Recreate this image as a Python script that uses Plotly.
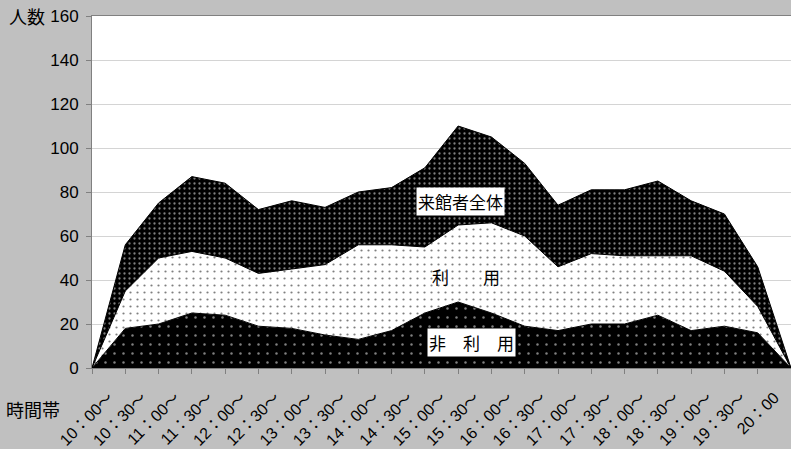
import plotly.graph_objects as go

# Category labels (time bands)
time_labels = ["10：00～", "10：30～", "11：00～", "11：30～", "12：00～", "12：30～",
               "13：00～", "13：30～", "14：00～", "14：30～", "15：00～", "15：30～",
               "16：00～", "16：30～", "17：00～", "17：30～", "18：00～", "18：30～",
               "19：00～", "19：30～", "20：00"]

# Series values at each boundary point (22 points)
non_use = [0, 18, 20, 25, 24, 19, 18, 15, 13, 17, 25, 30, 25, 19, 17, 20, 20, 24, 17, 19, 16, 0]
use = [0, 17, 30, 28, 26, 24, 27, 32, 43, 39, 30, 35, 41, 41, 29, 32, 31, 27, 34, 25, 12, 0]
total = [0, 56, 75, 87, 84, 72, 76, 73, 80, 82, 91, 110, 105, 93, 74, 81, 81, 85, 76, 70, 46, 0]

xs = list(range(len(total)))
use_top = [a + b for a, b in zip(non_use, use)]

fig = go.Figure()
fig.add_trace(go.Scatter(
    x=xs, y=non_use, mode="lines", fill="tozeroy", name="非利用",
    line=dict(color="black", width=1),
    fillcolor="black",
    fillpattern=dict(shape=".", bgcolor="black", fgcolor="white", size=9, solidity=0.06),
))
fig.add_trace(go.Scatter(
    x=xs, y=use_top, mode="lines", fill="tonexty", name="利用",
    line=dict(color="black", width=1),
    fillcolor="white",
    fillpattern=dict(shape=".", bgcolor="white", fgcolor="black", size=7, solidity=0.08),
))
fig.add_trace(go.Scatter(
    x=xs, y=total, mode="lines", fill="tonexty", name="来館者全体",
    line=dict(color="black", width=1),
    fillcolor="black",
    fillpattern=dict(shape=".", bgcolor="black", fgcolor="white", size=5, solidity=0.17),
))

label_font = dict(family="Noto Sans CJK JP", size=17, color="black")
fig.add_annotation(x=11.07, y=75.5, text="来館者全体", showarrow=False,
                   bgcolor="white", borderpad=1, font=label_font)
fig.add_annotation(x=11.25, y=41.4, text="利　　用", showarrow=False, font=label_font)
fig.add_annotation(x=11.4, y=11.8, text="非　利　用", showarrow=False,
                   bgcolor="white", borderpad=1, font=label_font)

fig.add_annotation(xref="paper", yref="paper", x=-0.122, y=1.0, xanchor="left", yanchor="middle",
                   text="人数", showarrow=False,
                   font=dict(family="Noto Sans CJK JP", size=18, color="black"))
fig.add_annotation(xref="paper", yref="paper", x=-0.126, y=-0.117, xanchor="left", yanchor="middle",
                   text="時間帯", showarrow=False,
                   font=dict(family="Noto Sans CJK JP", size=18, color="black"))

fig.update_layout(
    width=791, height=449,
    margin=dict(l=92, r=0, t=16, b=81),
    paper_bgcolor="#c0c0c0",
    plot_bgcolor="white",
    showlegend=False,
    font=dict(family="Liberation Sans, Noto Sans CJK JP", color="black"),
)
fig.update_xaxes(
    range=[0, len(time_labels)],
    tickmode="array",
    tickvals=[i + 0.5 for i in range(len(time_labels))],
    ticktext=time_labels,
    tickangle=-45,
    ticks="",
    ticklabelstandoff=13,
    tickfont=dict(family="Liberation Sans, Noto Sans CJK JP", size=16, color="black"),
    showgrid=False,
    zeroline=False,
    showline=True, linecolor="#808080", linewidth=1, mirror=True,
    minor=dict(tickmode="linear", tick0=0, dtick=1, ticks="outside", ticklen=5,
               tickcolor="#808080", showgrid=False),
)
fig.update_yaxes(
    range=[0, 160],
    dtick=20,
    ticks="outside", ticklen=5, tickcolor="#808080",
    tickfont=dict(family="Liberation Sans", size=17, color="black"),
    ticklabelstandoff=4,
    showgrid=True, gridcolor="#d4d4d4", gridwidth=1,
    zeroline=False,
    showline=True, linecolor="#808080", linewidth=1, mirror=True,
)

fig.write_html("out.html")
